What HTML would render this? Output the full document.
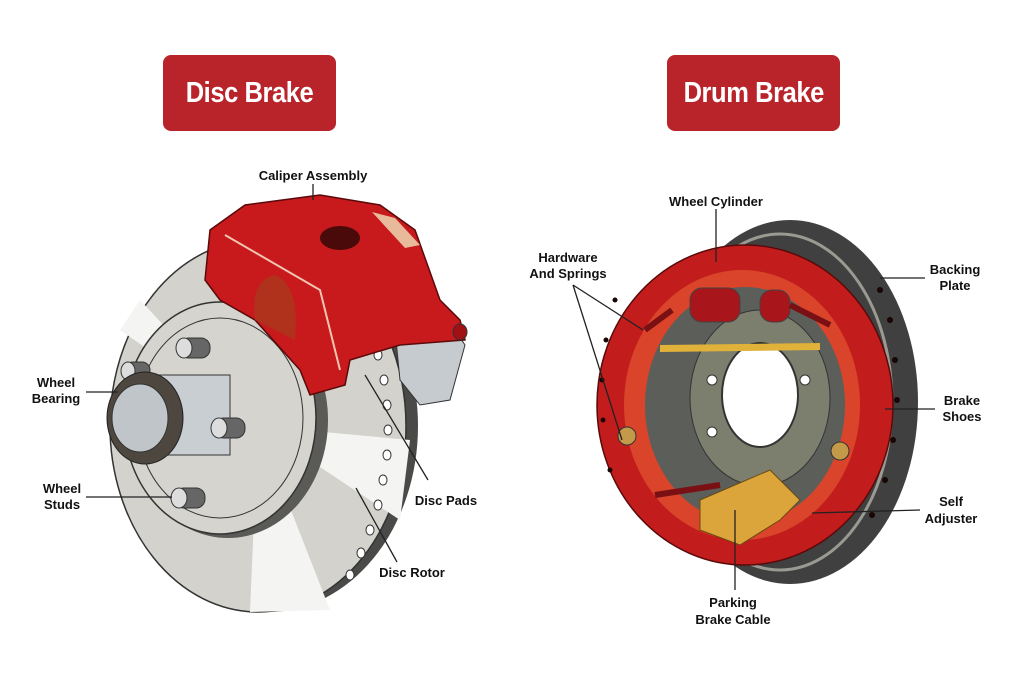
<!DOCTYPE html>
<html><head><style>
body{margin:0;background:#fff;width:1024px;height:673px;overflow:hidden;font-family:"Liberation Sans",sans-serif}
.btn{position:absolute;top:55px;width:173px;height:76px;background:#b8242a;border-radius:8px;color:#fff;font-weight:bold;font-size:29px;text-align:center;line-height:76px;letter-spacing:-0.5px}
.btn span{display:inline-block;transform:scaleX(0.88)}
</style></head><body>
<div class="btn" style="left:163px"><span>Disc Brake</span></div>
<div class="btn" style="left:667px"><span>Drum Brake</span></div>
<svg width="1024" height="673" style="position:absolute;left:0;top:0" font-family="Liberation Sans" font-weight="bold" font-size="13" fill="#111">
<!-- DISC -->
<ellipse cx="268" cy="426" rx="150" ry="186" fill="#4a4a48"/>
<ellipse cx="258" cy="426" rx="148" ry="186" fill="#d3d2cc" stroke="#333" stroke-width="1.5"/>
<path d="M258 426 L140 300 L120 330 Z M258 426 L330 610 L250 612 Z M258 426 L410 440 L400 520 Z" fill="#f4f4f2"/>
<g fill="#fff" stroke="#333">
<ellipse cx="378" cy="355" rx="4" ry="5"/><ellipse cx="384" cy="380" rx="4" ry="5"/><ellipse cx="387" cy="405" rx="4" ry="5"/><ellipse cx="388" cy="430" rx="4" ry="5"/><ellipse cx="387" cy="455" rx="4" ry="5"/><ellipse cx="383" cy="480" rx="4" ry="5"/><ellipse cx="378" cy="505" rx="4" ry="5"/><ellipse cx="370" cy="530" rx="4" ry="5"/><ellipse cx="361" cy="553" rx="4" ry="5"/><ellipse cx="350" cy="575" rx="4" ry="5"/></g>
<ellipse cx="228" cy="420" rx="100" ry="118" fill="#5a5a56"/>
<ellipse cx="220" cy="418" rx="96" ry="116" fill="#d5d4ce" stroke="#333" stroke-width="1.5"/>
<ellipse cx="220" cy="418" rx="83" ry="100" fill="none" stroke="#333"/>
<rect x="140" y="375" width="90" height="80" fill="#c9ced2" stroke="#333"/>
<g fill="#666" stroke="#333"><rect x="180" y="338" width="30" height="20" rx="9"/><rect x="215" y="418" width="30" height="20" rx="9"/><rect x="175" y="488" width="30" height="20" rx="9"/><rect x="125" y="362" width="25" height="18" rx="8"/></g>
<g fill="#ddd" stroke="#333"><ellipse cx="184" cy="348" rx="8" ry="10"/><ellipse cx="219" cy="428" rx="8" ry="10"/><ellipse cx="179" cy="498" rx="8" ry="10"/><ellipse cx="128" cy="371" rx="7" ry="9"/></g>
<ellipse cx="145" cy="418" rx="38" ry="46" fill="#4d4740" stroke="#222"/>
<ellipse cx="140" cy="418" rx="28" ry="34" fill="#bfc5c9" stroke="#333"/>
<!-- caliper -->
<path d="M395 330 L455 330 L465 345 L450 400 L420 405 L400 380 Z" fill="#c6cbcf" stroke="#333"/>
<path d="M210 230 L245 205 L320 195 L380 205 L415 230 L440 300 L460 320 L465 340 L400 345 L350 360 L345 385 L310 395 L300 370 L255 320 L220 300 L205 280 Z" fill="#c8191d" stroke="#5a0a0a" stroke-width="1.5"/>
<path d="M255 320 Q250 280 275 275 Q300 285 295 340 Z" fill="#b0321d"/>
<ellipse cx="340" cy="238" rx="20" ry="12" fill="#4a0a0a"/>
<path d="M225 235 L320 290 L340 370" stroke="#f3c4b0" stroke-width="2" fill="none"/>
<path d="M372 212 L395 218 L420 245 L405 248 Z" fill="#e8b99a"/>
<ellipse cx="460" cy="332" rx="7" ry="8" fill="#a01015" stroke="#333"/>
<!-- disc labels -->
<g stroke="#222" stroke-width="1.3" fill="none">
<line x1="313" y1="184" x2="313" y2="200"/>
<line x1="86" y1="392" x2="118" y2="392"/>
<line x1="86" y1="497" x2="172" y2="497"/>
<line x1="365" y1="375" x2="428" y2="480"/>
<line x1="356" y1="488" x2="397" y2="562"/>
</g>
<text x="313" y="180" text-anchor="middle">Caliper Assembly</text>
<text x="56" y="387" text-anchor="middle">Wheel</text><text x="56" y="403" text-anchor="middle">Bearing</text>
<text x="62" y="493" text-anchor="middle">Wheel</text><text x="62" y="509" text-anchor="middle">Studs</text>
<text x="446" y="505" text-anchor="middle">Disc Pads</text>
<text x="412" y="577" text-anchor="middle">Disc Rotor</text>
<!-- DRUM -->
<ellipse cx="790" cy="402" rx="128" ry="182" fill="#3f403f"/>
<ellipse cx="780" cy="402" rx="112" ry="168" fill="none" stroke="#9a9a92" stroke-width="3"/>
<ellipse cx="745" cy="405" rx="148" ry="160" fill="#c21d1c" stroke="#5a0a0a" stroke-width="1.5"/>
<ellipse cx="742" cy="405" rx="118" ry="135" fill="#d9442a"/>
<ellipse cx="745" cy="405" rx="100" ry="118" fill="#5c5e5a"/>
<ellipse cx="760" cy="398" rx="70" ry="88" fill="#7d7f6e" stroke="#333"/>
<ellipse cx="760" cy="395" rx="38" ry="52" fill="#fff" stroke="#333" stroke-width="2"/>
<g fill="#fff" stroke="#333"><circle cx="712" cy="380" r="5"/><circle cx="805" cy="380" r="5"/><circle cx="712" cy="432" r="5"/></g>
<path d="M660 345 L820 343 L820 350 L660 352 Z" fill="#e0b23a"/>
<rect x="690" y="288" width="50" height="34" rx="12" fill="#a8151a" stroke="#444"/>
<rect x="760" y="290" width="30" height="32" rx="12" fill="#a8151a" stroke="#444"/>
<g stroke="#7a1014" stroke-width="6" fill="none"><line x1="645" y1="330" x2="672" y2="310"/><line x1="790" y1="305" x2="830" y2="325"/><line x1="655" y1="495" x2="720" y2="485"/></g>
<path d="M700 500 L770 470 L800 500 L780 520 L740 545 L700 530 Z" fill="#dca53c" stroke="#6a4a10"/>
<g fill="#c49a4a" stroke="#333"><circle cx="627" cy="436" r="9"/><circle cx="840" cy="451" r="9"/></g>
<g fill="#1a0505"><circle cx="880" cy="290" r="3"/><circle cx="890" cy="320" r="3"/><circle cx="895" cy="360" r="3"/><circle cx="897" cy="400" r="3"/><circle cx="893" cy="440" r="3"/><circle cx="885" cy="480" r="3"/><circle cx="872" cy="515" r="3"/><circle cx="615" cy="300" r="2.5"/><circle cx="606" cy="340" r="2.5"/><circle cx="602" cy="380" r="2.5"/><circle cx="603" cy="420" r="2.5"/><circle cx="610" cy="470" r="2.5"/></g>
<g stroke="#222" stroke-width="1.3" fill="none">
<line x1="716" y1="209" x2="716" y2="262"/>
<line x1="880" y1="278" x2="925" y2="278"/>
<line x1="885" y1="409" x2="935" y2="409"/>
<line x1="812" y1="513" x2="920" y2="510"/>
<line x1="735" y1="510" x2="735" y2="590"/>
<line x1="573" y1="285" x2="643" y2="330"/>
<line x1="573" y1="285" x2="622" y2="440"/>
</g>
<text x="716" y="206" text-anchor="middle">Wheel Cylinder</text>
<text x="568" y="262" text-anchor="middle">Hardware</text><text x="568" y="278" text-anchor="middle">And Springs</text>
<text x="955" y="274" text-anchor="middle">Backing</text><text x="955" y="290" text-anchor="middle">Plate</text>
<text x="962" y="405" text-anchor="middle">Brake</text><text x="962" y="421" text-anchor="middle">Shoes</text>
<text x="951" y="506" text-anchor="middle">Self</text><text x="951" y="523" text-anchor="middle">Adjuster</text>
<text x="733" y="607" text-anchor="middle">Parking</text><text x="733" y="624" text-anchor="middle">Brake Cable</text>
</svg>
</body></html>
